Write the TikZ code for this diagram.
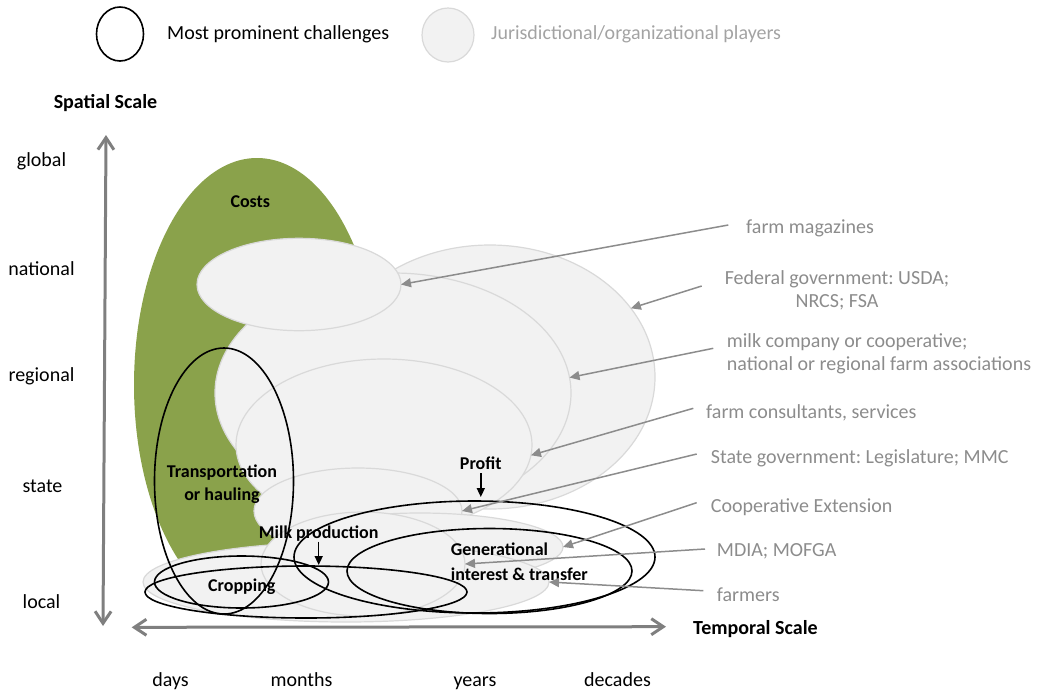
\documentclass[tikz,border=0pt]{standalone}
\usepackage{fontspec}
\setmainfont{Carlito}
\usetikzlibrary{shapes.geometric,arrows.meta}
\definecolor{costgreen}{HTML}{8AA24B}
\definecolor{pfill}{HTML}{F2F2F2}
\definecolor{pline}{HTML}{D9D9D9}
\definecolor{lblgray}{HTML}{8C8C8C}
\definecolor{leggray}{HTML}{A3A3A3}
\definecolor{axisgray}{HTML}{7F7F7F}
\frenchspacing
\begin{document}
\begin{tikzpicture}[x=1pt,y=-1pt,
  player/.style={ellipse, draw=pline, fill=pfill, line width=1.2pt, inner sep=0pt, outer sep=0pt},
  challenge/.style={ellipse, draw=black, line width=1.6pt, inner sep=0pt, outer sep=0pt},
  costs/.style={ellipse, fill=costgreen, inner sep=0pt, outer sep=0pt},
  lab/.style={font=\frenchspacing\fontsize{20}{23}\selectfont, inner sep=0pt},
  blab/.style={font=\bfseries\fontsize{18}{22}\selectfont, inner sep=0pt},
  axlab/.style={font=\bfseries\fontsize{20}{23}\selectfont, inner sep=0pt},
  glab/.style={lab, text=lblgray},
  garrow/.style={draw=lblgray, line width=1.5pt, -{Triangle[length=10pt,width=9pt]}},
  barrow/.style={draw=black, line width=1.5pt, -{Triangle[length=9pt,width=8pt]}},
  axis/.style={draw=axisgray, line width=3pt, {Straight Barb[length=12pt,width=16pt]}-{Straight Barb[length=12pt,width=16pt]}}
]
\useasboundingbox (0,0) rectangle (1041,694);

% legend
\node[challenge, minimum width=47pt, minimum height=54pt] (legc) at (120,34) {};
\node[lab, anchor=mid west] (legct) at (167,37.5) {Most prominent challenges};
\node[player, minimum width=52pt, minimum height=54pt] (legp) at (448,35) {};
\node[lab, anchor=mid west, text=leggray] (legpt) at (491,37.5) {Jurisdictional/organizational players};

% costs
\node[costs, minimum width=246pt, minimum height=454pt] (costs) at (257,385) {};

% players
\node[player, minimum width=330pt, minimum height=264pt] (fed) at (490,377) {};
\node[player, minimum width=356pt, minimum height=240pt] (milkco) at (393,393) {};
\node[player, minimum width=204pt, minimum height=92.4pt] (mag) at (299,284.5) {};
\node[player, minimum width=296pt, minimum height=172pt] (cons) at (384,445) {};
\node[player, minimum width=208pt, minimum height=86pt] (state) at (358,511) {};
\node[player, minimum width=286pt, minimum height=68pt] (coop) at (420,547) {};
\node[player, minimum width=406pt, minimum height=80pt] (farmers) at (346,582) {};
\node[player, minimum width=204pt, minimum height=104pt] (mdia) at (363,564) {};

% challenges
\node[challenge, minimum width=139pt, minimum height=266pt] (trans) at (224,481) {};
\node[challenge, minimum width=174pt, minimum height=52pt] (crop) at (241.5,582) {};
\node[challenge, minimum width=322pt, minimum height=52pt] (milkp) at (306,592) {};
\node[challenge, minimum width=361pt, minimum height=112pt] (profit) at (474.5,557) {};
\node[challenge, minimum width=285pt, minimum height=85pt] (gen) at (489.5,571) {};

% challenge labels
\node[blab] (costlbl) at (250.3,201.7) {Costs};
\node[blab, align=center, anchor=north, font=\bfseries\fontsize{18}{22.3}\selectfont] (translbl) at (222,465) {Transportation\\or hauling};
\node[blab, anchor=mid] (proflbl) at (480.8,467.5) {Profit};
\node[blab, anchor=mid] (mplbl) at (318.7,536.3) {Milk production};
\node[blab, anchor=mid] (croplbl) at (241.8,589) {Cropping};
\node[blab, align=left, anchor=north west, font=\bfseries\fontsize{18}{25}\selectfont] (genlbl) at (450.7,542.3) {Generational\\interest \& transfer};
\draw[barrow, shorten <=3pt, shorten >=4pt] (proflbl.south) -- (proflbl.south |- profit.north);
\draw[barrow, shorten <=0pt, shorten >=1pt] (mplbl.south) -- (mplbl.south |- milkp.north);

% axes
\coordinate (ytop) at (106,135);
\coordinate (ybot) at (103,626);
\coordinate (xleft) at (131.7,627.3);
\coordinate (xright) at (666,626.7);
\draw[axis] (ytop) -- (ybot);
\draw[axis] (xleft) -- (xright);
\node[axlab, anchor=mid] (spatial) at (105.5,106) {Spatial Scale};
\node[axlab, anchor=mid west] (temporal) at (693,632) {Temporal Scale};

% spatial ticks
\node[lab, anchor=mid] (global) at (41.5,164.5) {global};
\node[lab, anchor=mid] (national) at (41.5,273.5) {national};
\node[lab, anchor=mid] (regional) at (41.5,379.5) {regional};
\node[lab, anchor=mid] (stateax) at (42.5,490.5) {state};
\node[lab, anchor=mid] (local) at (41.5,606) {local};

% temporal ticks
\node[lab, anchor=mid] (days) at (170.5,684.5) {days};
\node[lab, anchor=mid] (months) at (301.5,684.5) {months};
\node[lab, anchor=mid] (years) at (475,684.5) {years};
\node[lab, anchor=mid] (decades) at (617.5,684.5) {decades};

% player labels
\node[glab, anchor=mid west] (tmag) at (746,231) {farm magazines};
\node[glab, align=center, anchor=north] (tfed) at (837,270.5) {Federal government: USDA;\\NRCS; FSA};
\node[glab, align=left, anchor=north west] (tmilk) at (726.7,333) {milk company or cooperative;\\national or regional farm associations};
\node[glab, anchor=mid west] (tcons) at (706,416) {farm consultants, services};
\node[glab, anchor=mid west] (tstate) at (710.7,461) {State government: Legislature; MMC};
\node[glab, anchor=mid west] (tcoop) at (710.7,510.5) {Cooperative Extension};
\node[glab, anchor=mid west] (tmdia) at (716.7,554.5) {MDIA; MOFGA};
\node[glab, anchor=mid west] (tfarm) at (716.7,599.5) {farmers};

% player arrows
\coordinate (smag) at (728.3,225);
\coordinate (sfed) at (701.7,286);
\coordinate (smilk) at (713.3,348.3);
\coordinate (scons) at (693.3,408.3);
\coordinate (sstate) at (696.7,454);
\coordinate (scoop) at (696.7,502.7);
\coordinate (smdia) at (705,549);
\coordinate (sfarm) at (703.3,590.7);
\draw[garrow] (smag) -- (mag.east);
\draw[garrow] (sfed) -- (fed.26);
\draw[garrow] (smilk) -- (milkco.5);
\draw[garrow] (scons) -- (cons.356);
\draw[garrow] (sstate) -- (state.east);
\draw[garrow] (scoop) -- (coop.east);
\draw[garrow] (smdia) -- (mdia.east);
\draw[garrow] (sfarm) -- (farmers.east);
\end{tikzpicture}
\end{document}
